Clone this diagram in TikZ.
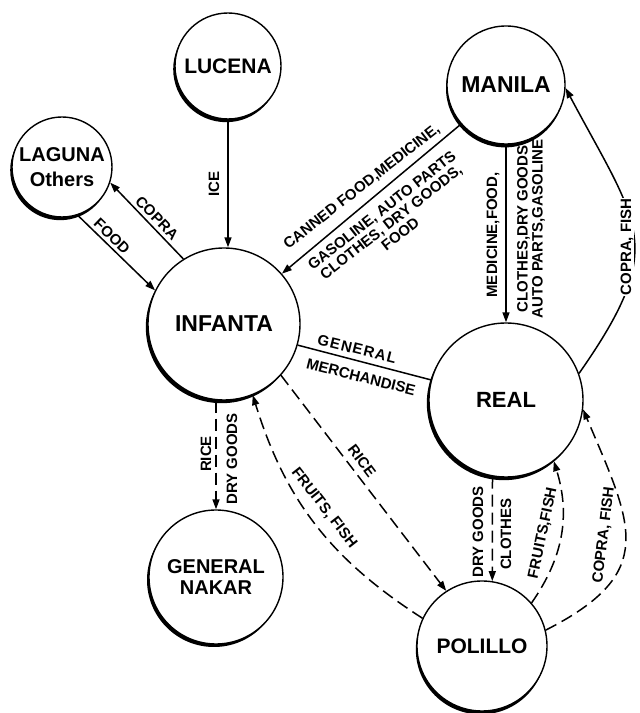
\documentclass[tikz,border=0pt]{standalone}
\usepackage{fontspec}
\setmainfont{Liberation Sans}
\usetikzlibrary{arrows.meta}
\begin{document}
\begin{tikzpicture}[x=1pt,y=1pt,
  city/.style={circle, draw, line width=1.4pt, fill=white, inner sep=0pt, align=center},
  shade/.style={fill=black},
  conn/.style={line width=1.5pt, -{Triangle[length=10pt,width=7pt]}},
  plain/.style={line width=1.5pt},
  dsh/.style={dash pattern=on 12pt off 6pt},
  lbl/.style={font=\bfseries\fontsize{15}{15}\selectfont, inner sep=1pt, align=center},
]
\useasboundingbox (0,0) rectangle (640,713);
% centres
\coordinate (cLucena) at (228,713-66);
\coordinate (cLaguna) at (62,713-167);
\coordinate (cInfanta) at (224,713-324);
\coordinate (cManila) at (506,713-85);
\coordinate (cReal) at (506,713-400);
\coordinate (cPolillo) at (482,713-646);
\coordinate (cNakar) at (216,713-577);
% heavy lower-left rims
\fill[shade] ([shift={(-1.8,-3.2)}]cLucena) circle (53);
\fill[shade] ([shift={(-1.8,-3.2)}]cLaguna) circle (50);
\fill[shade] ([shift={(-2.2,-3.2)}]cInfanta) circle (76);
\fill[shade] ([shift={(-1.0,-3.4)}]cManila) circle (59);
\fill[shade] ([shift={(-2.2,-3.2)}]cReal) circle (77);
\fill[shade] ([shift={(-1.2,-3.4)}]cPolillo) circle (65);
\fill[shade] ([shift={(-2.0,-3.0)}]cNakar) circle (67);
% cities
\node[city, minimum size=106pt, font=\bfseries\fontsize{21}{21}\selectfont] (lucena) at (cLucena) {LUCENA};
\node[city, minimum size=100pt, font=\bfseries\fontsize{20}{25}\selectfont] (laguna) at (cLaguna) {LAGUNA\\Others};
\node[city, minimum size=152pt, font=\bfseries\fontsize{23}{23}\selectfont] (infanta) at (cInfanta) {INFANTA};
\node[city, minimum size=118pt, font=\bfseries\fontsize{23}{23}\selectfont] (manila) at (cManila) {MANILA};
\node[city, minimum size=154pt, font=\bfseries\fontsize{22}{22}\selectfont] (real) at (cReal) {REAL};
\node[city, minimum size=130pt, font=\bfseries\fontsize{21}{21}\selectfont] (polillo) at (cPolillo) {POLILLO};
\node[city, minimum size=134pt, font=\bfseries\fontsize{20}{21}\selectfont] (nakar) at (cNakar) {GENERAL\\NAKAR};
% connectors
\draw[conn] (lucena.south) -- (lucena.south |- infanta.north);
\draw[conn] (infanta.122) -- (laguna.-18);
\draw[conn] (laguna.-72) -- (infanta.154);
\draw[conn] (manila.221) -- (infanta.41);
\draw[conn] (manila.south) -- (real.north);
\draw[conn] (real.20) to[out=55,in=-62,looseness=1.4] (manila.-3);
\draw[plain] (infanta.-16) -- (real.165);
\draw[conn,dsh] (nakar.north |- infanta.south) -- (nakar.north);
\draw[conn,dsh] (infanta.-42) -- (polillo.123);
\draw[conn,dsh] (polillo.155) to[bend left=20] (infanta.-68);
\draw[conn,dsh] (real.-100) -- (polillo.81);
\draw[conn,dsh] (polillo.41) to[bend right=26] (real.-52);
\draw[conn,dsh] (polillo.14) to[out=27,in=-67,looseness=1.45] (real.-7);
% labels
\node[lbl, rotate=90] (t1) at (214,713-184) {ICE};
\node[lbl, rotate=-46] (t2) at (157,713-218) {COPRA};
\node[lbl, rotate=-44] (t3) at (112,713-236) {FOOD};
\node[lbl, rotate=38] (t4) at (362,713-187) {CANNED FOOD,MEDICINE,};
\node[lbl, rotate=38] (t5) at (391,713-222) {GASOLINE, AUTO PARTS\\CLOTHES, DRY GOODS,\\FOOD};
\node[lbl, rotate=-14] (t6) at (357,713-349) {\addfontfeature{LetterSpace=8}GENERAL};
\node[lbl, rotate=-14] (t7) at (361,713-377) {MERCHANDISE};
\node[lbl, rotate=90] (t8) at (493,713-235) {MEDICINE,FOOD,};
\node[lbl, rotate=90] (t9) at (531,713-229) {CLOTHES,DRY GOODS\\AUTO PARTS,GASOLINE};
\node[lbl, rotate=90, fill=white] (t10) at (627,713-247) {COPRA, FISH};
\node[lbl, rotate=90] (t11) at (206,713-454) {RICE};
\node[lbl, rotate=90] (t12) at (232,713-459) {DRY GOODS};
\node[lbl, rotate=-53] (t13) at (362,713-461) {RICE};
\node[lbl, rotate=-52] (t14) at (324,713-508) {FRUITS, FISH};
\node[lbl, rotate=90] (t15) at (478,713-532) {DRY GOODS};
\node[lbl, rotate=90] (t16) at (506,713-534) {CLOTHES};
\node[lbl, rotate=78] (t17) at (543,713-533) {FRUITS,FISH};
\node[lbl, rotate=83] (t18) at (604,713-535) {COPRA, FISH};
\end{tikzpicture}
\end{document}
